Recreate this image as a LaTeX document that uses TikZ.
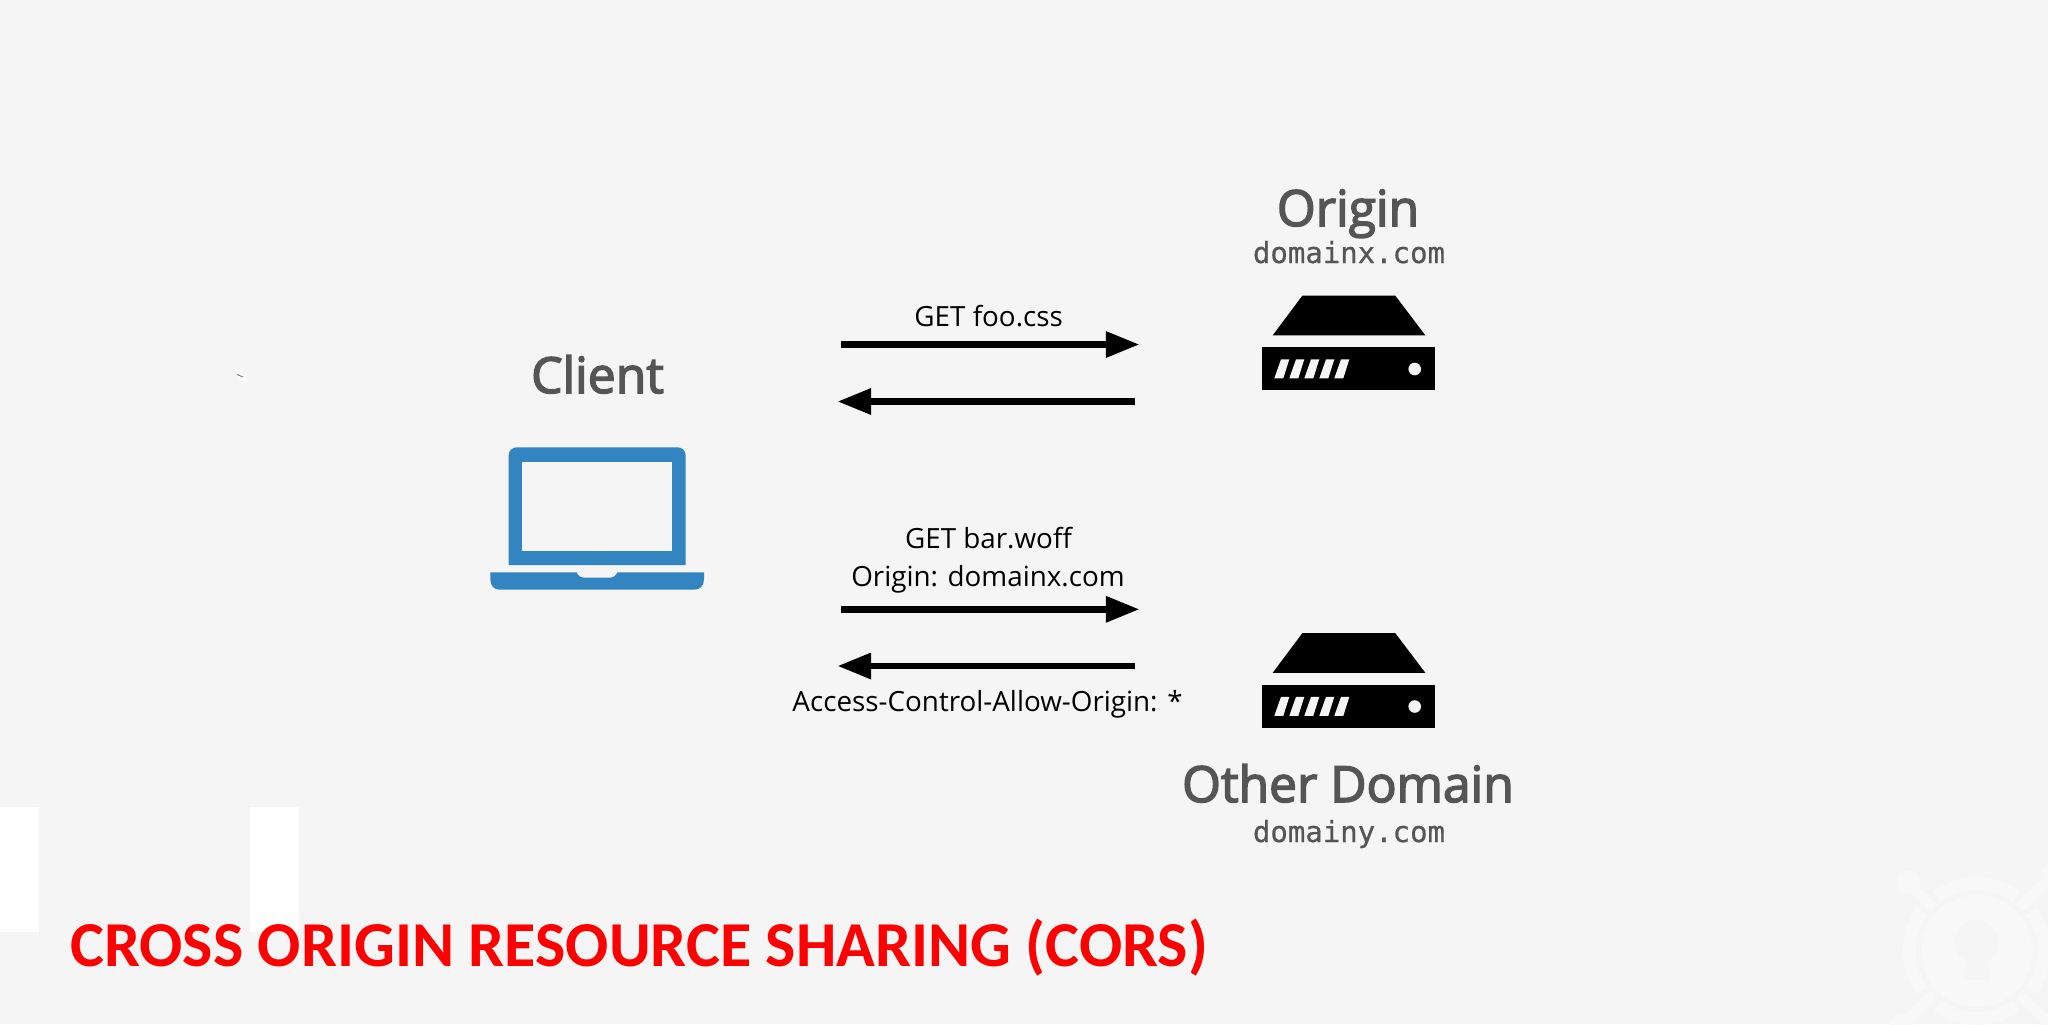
\documentclass[tikz,border=0pt]{standalone}
\usepackage{fontspec}
\setmainfont{Open Sans}
\newfontfamily\headfont{Open Sans}[FakeBold=3]
\newfontfamily\hostfont{DejaVu Sans Mono}[FakeBold=0.6]
\newfontfamily\titlefont{Carlito}
\usetikzlibrary{arrows.meta}
\definecolor{pagebg}{HTML}{F5F5F5}
\definecolor{markbg}{HTML}{F8F8F8}
\definecolor{headgray}{HTML}{555555}
\definecolor{laptopblue}{HTML}{3385C1}
\tikzset{%
  heading/.style={anchor=base,inner sep=0,text=headgray,font=\headfont\fontsize{24.9}{30}\selectfont},
  hostname/.style={anchor=base,inner sep=0,text=headgray,font=\hostfont\fontsize{14.5}{17}\selectfont},
  msg/.style={anchor=base,inner sep=0,text=black,font=\fontsize{13.9}{17}\selectfont},
  flow/.style={line width=3.2pt,-{Triangle[length=16.8pt,width=12.5pt]}},
  server/.pic={
    \fill (1302.3,295.7) -- (1395.3,295.7) -- (1425.3,335.3) -- (1272.7,335.3) -- cycle;
    \fill (1262.3,347) rectangle (1435.3,390.3);
    \foreach \i in {0,...,4}
      \fill[pagebg,xshift=\i*7.5pt] (1274.3,378.3) -- (1283.3,378.3) -- (1289.3,359.3) -- (1281,359.3) -- cycle;
    \fill[pagebg] (1414.7,369) circle (6.3);
  }
}
\begin{document}
\begin{tikzpicture}[x=0.5pt,y=-0.5pt]
    \clip (0,0) rectangle (2048,1024);
    \fill[pagebg] (0,0) rectangle (2048,1024);
    \fill[white] (0,807) rectangle (38.7,932.3);
    \fill[white] (250,807) rectangle (298.7,932.3);
    % stray speck
    \fill[white] (234,372) -- (245,375) -- (247,382) -- (240,379) -- cycle;
    \draw[gray,line width=.5pt] (237,374.5) -- (243,377);
    % faint mark
    \begin{scope}[markbg]
      \fill (1976.7,951) circle (56);
      \foreach \a in {0,90,180,270}
        \draw[line width=6.5pt] (1976.7,951) ++(\a-36:67.5) arc[start angle=\a-36,end angle=\a+36,radius=67.5];
      \foreach \a/\r in {45/105,135/107,225/97,315/109} {
        \draw[line width=5pt] (1976.7,951) ++(\a:60) -- ++(\a:\r-60);
        \fill (1976.7,951) ++(\a:\r) circle (12);
      }
      \fill[pagebg] (1976.7,941.7) circle (22);
      \fill[pagebg] (1968.5,958) -- (1986,958) -- (1990,980) -- (1964,980) -- cycle;
    \end{scope}
    % laptop
    \fill[laptopblue] (508.7,565) -- (508.7,455.3) arc[start angle=180,end angle=270,radius=8]
      -- (677.7,447.3) arc[start angle=270,end angle=360,radius=8] -- (685.7,565) -- cycle;
    \fill[pagebg] (522.3,461.7) rectangle (671.7,550.7);
    \fill[laptopblue] (490.3,572.3) -- (576.7,572.3) .. controls (578,576) and (581,577.7) .. (585,577.7)
      -- (609,577.7) .. controls (613,577.7) and (616,576) .. (617.3,572.3) -- (704,572.3) -- (704,579)
      .. controls (704,586) and (700,589.7) .. (694,589.7) -- (500,589.7) .. controls (494,589.7) and (490.3,586) .. (490.3,579) -- cycle;
    % servers
    \path (0,0) pic {server} (0,337.5) pic {server};
    % labels
    \path
      (597.5,393) node[heading] (client) {Client}
      (1348,226) node[heading] (origin) {Origin}
      (1349,263) node[hostname] (originhost) {domainx.com}
      (1348,802) node[heading] (other) {Other Domain}
      (1349,842) node[hostname] (otherhost) {domainy.com}
      (988.7,326) node[msg] (getcss) {GET foo.css}
      (988.5,548) node[msg] (getwoff) {GET bar.woff}
      (988,586) node[msg] (originhdr) {Origin: domainx.com}
      (987.5,711.2) node[msg] (allowhdr) {Access-Control-Allow-Origin: *}
      (70,966) node[anchor=base west,inner sep=0,text=red,font=\titlefont\bfseries\fontsize{32}{38}\selectfont] (title) {CROSS ORIGIN RESOURCE SHARING (CORS)};
    % arrow ends
    \coordinate (cssa) at (841,344.5);
    \coordinate (cssb) at (1139.4,344.5);
    \coordinate (cssc) at (1135.3,401.5);
    \coordinate (cssd) at (837.5,401.5);
    \coordinate (woffa) at (841,609.3);
    \coordinate (woffb) at (1139.4,609.3);
    \coordinate (woffc) at (1135.3,666);
    \coordinate (woffd) at (837.5,666);
    \draw[flow] (cssa) -- (cssb);
    \draw[flow] (cssc) -- (cssd);
    \draw[flow] (woffa) -- (woffb);
    \draw[flow] (woffc) -- (woffd);
  \end{tikzpicture}
\end{document}
